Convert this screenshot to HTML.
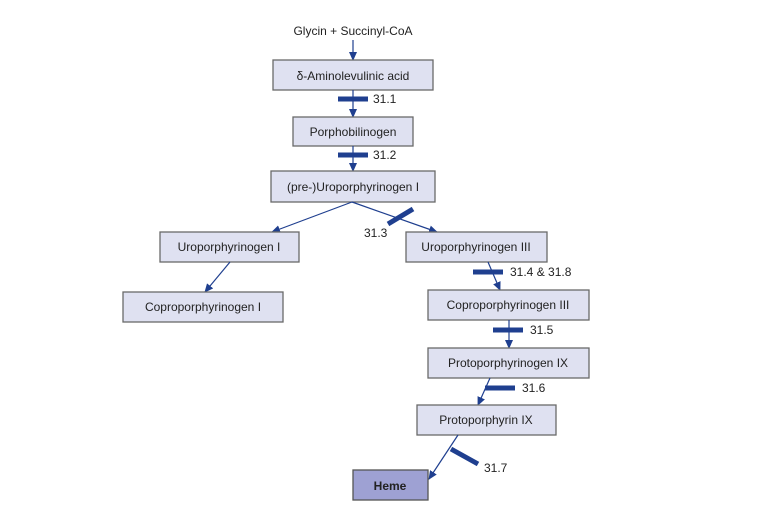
<!DOCTYPE html>
<html><head><meta charset="utf-8"><style>
body{margin:0;background:#fff;width:781px;height:511px;overflow:hidden}
svg{position:absolute;left:0;top:0}
text{font-family:"Liberation Sans","DejaVu Sans",sans-serif;font-size:12px;fill:#222}
.b{fill:#dfe1f1;stroke:#6a6a6a;stroke-width:1.3}
.l{stroke:#1f3f8f;stroke-width:1.2;fill:none}
.bar{stroke:#1f3f8f;stroke-width:5}
</style></head><body>
<svg width="781" height="511" viewBox="0 0 781 511">
<defs><marker id="a" markerWidth="10" markerHeight="10" refX="8" refY="5" orient="auto" markerUnits="userSpaceOnUse"><path d="M0,1 L9,5 L0,9 Z" fill="#1f3f8f"/></marker></defs>
<text x="353" y="35" text-anchor="middle">Glycin + Succinyl-CoA</text>
<line class="l" x1="353" y1="40" x2="353" y2="60" marker-end="url(#a)"/>
<rect class="b" x="273" y="60" width="160" height="30"/><text x="353" y="80" text-anchor="middle">δ-Aminolevulinic acid</text>
<line class="l" x1="353" y1="90" x2="353" y2="117" marker-end="url(#a)"/>
<line class="bar" x1="338" y1="99" x2="368" y2="99"/><text x="373" y="103">31.1</text>
<rect class="b" x="293" y="117" width="120" height="29"/><text x="353" y="136" text-anchor="middle">Porphobilinogen</text>
<line class="l" x1="353" y1="146" x2="353" y2="171" marker-end="url(#a)"/>
<line class="bar" x1="338" y1="155" x2="368" y2="155"/><text x="373" y="159">31.2</text>
<rect class="b" x="271" y="171" width="164" height="31"/><text x="353" y="191" text-anchor="middle">(pre-)Uroporphyrinogen I</text>
<line class="l" x1="352" y1="202" x2="272" y2="232" marker-end="url(#a)"/>
<line class="l" x1="352" y1="202" x2="437" y2="232" marker-end="url(#a)"/>
<line class="bar" x1="388" y1="224" x2="413" y2="209"/><text x="364" y="237">31.3</text>
<rect class="b" x="160" y="232" width="139" height="30"/><text x="229" y="251" text-anchor="middle">Uroporphyrinogen I</text>
<rect class="b" x="406" y="232" width="141" height="30"/><text x="476" y="251" text-anchor="middle">Uroporphyrinogen III</text>
<line class="l" x1="230" y1="262" x2="205" y2="292" marker-end="url(#a)"/>
<rect class="b" x="123" y="292" width="160" height="30"/><text x="203" y="311" text-anchor="middle">Coproporphyrinogen I</text>
<line class="l" x1="488" y1="262" x2="500" y2="290" marker-end="url(#a)"/>
<line class="bar" x1="473" y1="272" x2="503" y2="272"/><text x="510" y="276">31.4 &amp; 31.8</text>
<rect class="b" x="428" y="290" width="161" height="30"/><text x="508" y="309" text-anchor="middle">Coproporphyrinogen III</text>
<line class="l" x1="509" y1="320" x2="509" y2="348" marker-end="url(#a)"/>
<line class="bar" x1="493" y1="330" x2="523" y2="330"/><text x="530" y="334">31.5</text>
<rect class="b" x="428" y="348" width="161" height="30"/><text x="508" y="367" text-anchor="middle">Protoporphyrinogen IX</text>
<line class="l" x1="490" y1="378" x2="478" y2="405" marker-end="url(#a)"/>
<line class="bar" x1="485" y1="388" x2="515" y2="388"/><text x="522" y="392">31.6</text>
<rect class="b" x="417" y="405" width="139" height="30"/><text x="486" y="424" text-anchor="middle">Protoporphyrin IX</text>
<line class="l" x1="458" y1="435" x2="429" y2="479" marker-end="url(#a)"/>
<line class="bar" x1="451" y1="449" x2="478" y2="464"/><text x="484" y="472">31.7</text>
<rect x="353" y="470" width="75" height="30" fill="#9ea1d3" stroke="#555" stroke-width="1.3"/><text x="390" y="490" text-anchor="middle" font-weight="bold">Heme</text>
</svg>
</body></html>
